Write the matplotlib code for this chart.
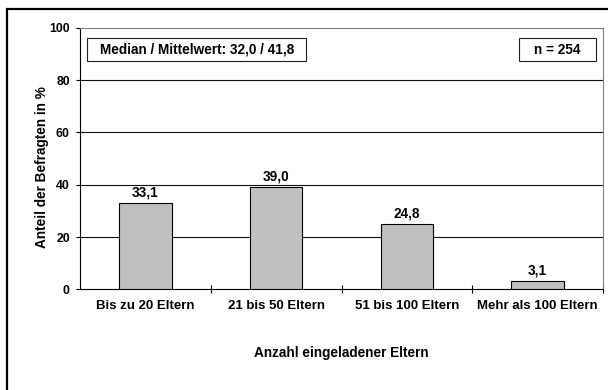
import matplotlib
matplotlib.use("Agg")
import matplotlib.pyplot as plt
from matplotlib.patches import Rectangle

categories = ["Bis zu 20 Eltern", "21 bis 50 Eltern", "51 bis 100 Eltern", "Mehr als 100 Eltern"]
values = [33.1, 39.0, 24.8, 3.1]
value_labels = ["33,1", "39,0", "24,8", "3,1"]
y_ticks = [0, 20, 40, 60, 80, 100]
x_title = "Anzahl eingeladener Eltern"
y_title = "Anteil der Befragten in %"
stats_text = "Median / Mittelwert: 32,0 / 41,8"
n_text = "n = 254"

W, H = 608, 390
plt.rcParams['font.family'] = ['Liberation Sans', 'DejaVu Sans']
plt.rcParams['font.weight'] = 'bold'

fig = plt.figure(figsize=(W / 100, H / 100), dpi=100)


def fx(x):
    return x / W


def fy(y):
    return 1 - y / H


# plot area in pixel coordinates
left, right, top, bottom = 80, 603, 27.8, 289.3
ax = fig.add_axes([fx(left), fy(bottom), fx(right) - fx(left), fy(top) - fy(bottom)])

xpos = list(range(len(categories)))
ax.bar(xpos, values, width=0.4, color="#C0C0C0", edgecolor="black", linewidth=0.8, zorder=3)
for x, v, lab in zip(xpos, values, value_labels):
    ax.annotate(lab, (x, v), xytext=(0, 2.5), textcoords="offset points",
                ha="center", va="bottom", fontsize=9.8, fontweight="bold")

ax.set_xlim(-0.5, len(categories) - 0.5)
ax.set_ylim(0, 100)
ax.set_yticks(y_ticks)
ax.set_yticklabels([str(t) for t in y_ticks], fontsize=8.8, fontweight="bold")
ax.tick_params(axis="y", direction="out", length=3, width=0.8, pad=4.3)

# category labels centred, tick marks between categories
ax.set_xticks(xpos)
ax.set_xticklabels(categories, fontsize=9.5, fontweight="bold")
ax.tick_params(axis="x", which="major", length=0, pad=8)
ax.set_xticks([0.5, 1.5, 2.5, 3.5], minor=True)
ax.tick_params(axis="x", which="minor", direction="inout", length=6, width=0.8)

for t in y_ticks[1:-1]:
    ax.axhline(t, color="#111111", linewidth=0.8, zorder=1)

ax.spines["left"].set_color("black")
ax.spines["bottom"].set_color("black")
ax.spines["left"].set_linewidth(0.8)
ax.spines["bottom"].set_linewidth(0.8)
ax.spines["top"].set_color("#808080")
ax.spines["right"].set_color("#808080")
ax.spines["top"].set_linewidth(0.8)
ax.spines["right"].set_linewidth(0.8)

# axis titles
fig.text(fx((left + right) / 2), fy(353), x_title, ha="center", va="center",
         fontsize=9.8, fontweight="bold")
fig.text(fx(42), fy(167), y_title, ha="center", va="center", rotation=90,
         fontsize=9.8, fontweight="bold")

# framed info boxes
for (x0, x1), txt in [((87.3, 306), stats_text), ((519.3, 596), n_text)]:
    y0, y1 = 38.3, 61
    fig.patches.append(Rectangle((fx(x0), fy(y1)), fx(x1) - fx(x0), fy(y0) - fy(y1),
                                 transform=fig.transFigure, facecolor="white",
                                 edgecolor="#222222", linewidth=0.8, zorder=5))
    fig.text(fx((x0 + x1) / 2), fy((y0 + y1) / 2), txt, ha="center", va="center",
             fontsize=9.8, fontweight="bold", zorder=6)

# outer chart frame
fig.patches.append(Rectangle((fx(7), fy(420)), fx(660) - fx(7), fy(9) - fy(420),
                             transform=fig.transFigure, facecolor="none",
                             edgecolor="black", linewidth=1.6, zorder=0))

fig.savefig("out.png", dpi=100)
